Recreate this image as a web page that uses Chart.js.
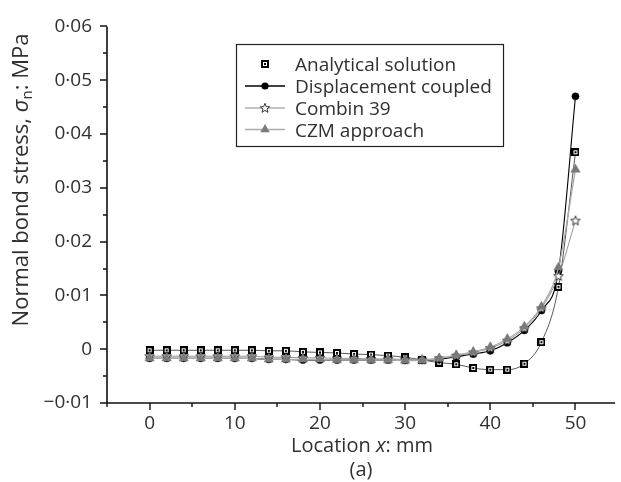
<!DOCTYPE html>
<html>
<head>
<meta charset="utf-8">
<script src="https://cdn.jsdelivr.net/npm/chart.js@4/dist/chart.umd.min.js"></script>
<style>
  html, body { margin: 0; padding: 0; background: #fff; }
  #wrap { width: 621px; height: 482px; }
</style>
</head>
<body>
<div id="wrap"><canvas id="c"></canvas></div>
<script>
// Location along the bond line, mm
const locations = [0, 2, 4, 6, 8, 10, 12, 14, 16, 18, 20, 22, 24, 26, 28, 30, 32, 34, 36, 38, 40, 42, 44, 46, 48, 50];

// Normal bond stress, MPa
const analytical = [-0.0002, -0.0002, -0.0002, -0.0002, -0.0002, -0.0002, -0.0002, -0.0003, -0.0003, -0.0005, -0.0006, -0.0007, -0.0009,
                    -0.0010, -0.0012, -0.0015, -0.0020, -0.0025, -0.0028, -0.0035, -0.0038, -0.0038, -0.0027, 0.0013, 0.0116, 0.0366];
const displacementCoupled = [-0.0017, -0.0017, -0.0017, -0.0017, -0.0017, -0.0017, -0.0017, -0.0019, -0.0019, -0.0020, -0.0020, -0.0020, -0.0020,
                    -0.0020, -0.0020, -0.0021, -0.0021, -0.0019, -0.0014, -0.0009, -0.0003, 0.0012, 0.0035, 0.0072, 0.0145, 0.0470];
const combin39 = [-0.0013, -0.0013, -0.0013, -0.0013, -0.0013, -0.0013, -0.0013, -0.0015, -0.0015, -0.0016, -0.0016, -0.0017, -0.0017,
                    -0.0018, -0.0018, -0.0019, -0.0019, -0.0017, -0.0012, -0.0006, 0.0002, 0.0016, 0.0039, 0.0076, 0.0136, 0.0239];
const czmApproach = [-0.0017, -0.0017, -0.0017, -0.0017, -0.0017, -0.0017, -0.0017, -0.0019, -0.0019, -0.0019, -0.0019, -0.0020, -0.0020,
                    -0.0020, -0.0020, -0.0021, -0.0021, -0.0017, -0.0011, -0.0005, 0.0004, 0.0019, 0.0042, 0.0079, 0.0152, 0.0334];

const seriesNames = ['Analytical solution', 'Displacement coupled', 'Combin 39', 'CZM approach'];

// Tick values
const xTickValues = [0, 10, 20, 30, 40, 50];
const yTickValues = [-0.01, 0, 0.01, 0.02, 0.03, 0.04, 0.05, 0.06];

const FONT = "'Open Sans', 'Noto Sans', sans-serif";
const TEXT = '#303030';

// Open square with a centre dot
function squareDot() {
  const c = document.createElement('canvas');
  c.width = 8; c.height = 8;
  const g = c.getContext('2d');
  g.fillStyle = '#fff'; g.fillRect(0, 0, 8, 8);
  g.strokeStyle = '#000'; g.lineWidth = 2; g.strokeRect(1, 1, 6, 6);
  g.fillStyle = '#000'; g.fillRect(3, 3, 2, 2);
  return c;
}
// Open five-pointed star
function openStar() {
  const c = document.createElement('canvas');
  c.width = 12; c.height = 12;
  const g = c.getContext('2d');
  g.beginPath();
  for (let i = 0; i < 10; i++) {
    const r = i % 2 === 0 ? 5 : 2.1;
    const a = -Math.PI / 2 + i * Math.PI / 5;
    const px = 6 + r * Math.cos(a), py = 6.3 + r * Math.sin(a);
    if (i === 0) g.moveTo(px, py); else g.lineTo(px, py);
  }
  g.closePath();
  g.fillStyle = '#fff'; g.fill();
  g.strokeStyle = '#222'; g.lineWidth = 0.9; g.stroke();
  return c;
}
const squareImg = squareDot();
const starImg = openStar();

function pts(vals) { return locations.map((x, i) => ({ x: x, y: vals[i] })); }

const styles = [
  { line: '#444', lineWidth: 0.9, legendLine: false },
  { line: '#000', lineWidth: 1.1, legendLine: true },
  { line: '#8a8a8a', lineWidth: 0.9, legendLine: true },
  { line: '#ababab', lineWidth: 1.3, legendLine: true }
];

const datasets = [
  { label: seriesNames[0], data: pts(analytical), order: 4, borderColor: styles[0].line, borderWidth: styles[0].lineWidth,
    pointStyle: squareImg, pointRadius: 4 },
  { label: seriesNames[1], data: pts(displacementCoupled), order: 3, borderColor: styles[1].line, borderWidth: styles[1].lineWidth,
    pointStyle: 'circle', pointRadius: 3.6, pointBackgroundColor: '#000', pointBorderColor: '#000', pointBorderWidth: 0.5 },
  { label: seriesNames[2], data: pts(combin39), order: 2, borderColor: styles[2].line, borderWidth: styles[2].lineWidth,
    pointStyle: starImg, pointRadius: 5 },
  { label: seriesNames[3], data: pts(czmApproach), order: 1, borderColor: styles[3].line, borderWidth: styles[3].lineWidth,
    pointStyle: 'triangle', pointRadius: 5.4, pointBackgroundColor: '#7a7a7a', pointBorderColor: '#7a7a7a', pointBorderWidth: 0.5 }
];

function fmtStress(v) {
  if (Math.abs(v) < 1e-9) return '0';
  const s = Math.abs(v).toFixed(2).replace('.', '\u00B7');
  return v < 0 ? '\u2212' + s : s;
}

// Axis lines, major/minor tick marks, axis titles and the boxed legend
const decorations = {
  id: 'decorations',
  afterDraw(chart) {
    const ctx = chart.ctx;
    const xs = chart.scales.x, ys = chart.scales.y;
    const left = chart.chartArea.left, right = chart.chartArea.right;
    const top = chart.chartArea.top, bottom = chart.chartArea.bottom;
    ctx.save();
    ctx.strokeStyle = '#111';
    ctx.lineWidth = 1.6;
    ctx.beginPath();
    ctx.moveTo(left, top); ctx.lineTo(left, bottom);
    ctx.moveTo(left, bottom); ctx.lineTo(right, bottom);
    ctx.stroke();

    ctx.lineWidth = 1.4;
    ctx.beginPath();
    for (let v = -5; v <= 55; v += 5) {
      const px = Math.round(xs.getPixelForValue(v));
      if (px > right + 1) continue;
      const len = (v % 10 === 0) ? 7 : 4;
      ctx.moveTo(px, bottom); ctx.lineTo(px, bottom + len);
    }
    for (let k = -2; k <= 12; k++) {
      const v = k * 0.005;
      const py = Math.round(ys.getPixelForValue(v));
      const len = (k % 2 === 0) ? 7 : 4;
      ctx.moveTo(left, py); ctx.lineTo(left - len, py);
    }
    ctx.stroke();

    // x title with italic symbol
    ctx.fillStyle = TEXT;
    ctx.textBaseline = 'alphabetic';
    const fN = '19px ' + FONT;
    const fX = '20px ' + FONT, fXI = 'italic 20px ' + FONT;
    const xParts = [['Location ', fX], ['x', fXI], [': mm', fX]];
    let w = 0;
    xParts.forEach(p => { ctx.font = p[1]; w += ctx.measureText(p[0]).width; });
    let cx = 362 - w / 2;
    xParts.forEach(p => { ctx.font = p[1]; ctx.fillText(p[0], cx, 452); cx += ctx.measureText(p[0]).width; });
    ctx.font = fX; ctx.textAlign = 'center';
    ctx.fillText('(a)', 361, 476);
    ctx.textAlign = 'left';

    // y title, rotated, with italic sigma and subscript n
    ctx.save();
    ctx.translate(28, 180);
    ctx.rotate(-Math.PI / 2);
    const yParts = [['Normal bond stress, ', '22px ' + FONT, 0], ['\u03C3', 'italic 22px ' + FONT, 0],
                    ['n', '15px ' + FONT, 4], [': MPa', '22px ' + FONT, 0]];
    w = 0;
    yParts.forEach(p => { ctx.font = p[1]; w += ctx.measureText(p[0]).width; });
    cx = -w / 2;
    yParts.forEach(p => { ctx.font = p[1]; ctx.fillText(p[0], cx, p[2]); cx += ctx.measureText(p[0]).width; });
    ctx.restore();

    // legend
    const bx = 236, by = 44, bw = 267, bh = 102;
    ctx.fillStyle = '#fff';
    ctx.fillRect(bx, by, bw, bh);
    ctx.strokeStyle = '#222'; ctx.lineWidth = 1.2;
    ctx.strokeRect(bx + 0.5, by + 0.5, bw, bh);
    const rows = [63.5, 86, 108, 129.5];
    chart.data.datasets.forEach((ds, i) => {
      const y = rows[i];
      if (styles[i].legendLine) {
        ctx.strokeStyle = ds.borderColor; ctx.lineWidth = ds.borderWidth + 0.3;
        ctx.beginPath(); ctx.moveTo(245, y); ctx.lineTo(285, y); ctx.stroke();
      }
      const mx = 265;
      if (ds.pointStyle instanceof HTMLCanvasElement) {
        ctx.drawImage(ds.pointStyle, Math.round(mx - ds.pointStyle.width / 2), Math.round(y - ds.pointStyle.height / 2));
      } else if (ds.pointStyle === 'circle') {
        ctx.fillStyle = ds.pointBackgroundColor;
        ctx.beginPath(); ctx.arc(mx, y, ds.pointRadius, 0, Math.PI * 2); ctx.fill();
      } else if (ds.pointStyle === 'triangle') {
        const r = ds.pointRadius;
        ctx.fillStyle = ds.pointBackgroundColor;
        ctx.beginPath();
        ctx.moveTo(mx, y - r);
        ctx.lineTo(mx + r * Math.sin(2 * Math.PI / 3), y + r / 2);
        ctx.lineTo(mx - r * Math.sin(2 * Math.PI / 3), y + r / 2);
        ctx.closePath(); ctx.fill();
      }
      ctx.fillStyle = TEXT; ctx.font = fN;
      ctx.fillText(ds.label, 295, y + 7);
    });
    ctx.restore();
  }
};

new Chart(document.getElementById('c'), {
  type: 'line',
  data: { datasets: datasets },
  plugins: [decorations],
  options: {
    responsive: true,
    maintainAspectRatio: false,
    animation: false,
    devicePixelRatio: 1,
    layout: { padding: { top: 18, right: 1, left: 0, bottom: 0 } },
    elements: { line: { cubicInterpolationMode: 'monotone', fill: false } },
    plugins: { legend: { display: false }, tooltip: { enabled: false } },
    scales: {
      x: {
        type: 'linear', min: -5, max: 54.65,
        grid: { display: false, drawTicks: false },
        border: { display: false },
        afterBuildTicks: s => { s.ticks = xTickValues.map(v => ({ value: v })); },
        afterFit: s => { s.height = 79; },
        ticks: { padding: 9, color: TEXT, font: { family: FONT, size: 19 }, maxRotation: 0, autoSkip: false }
      },
      y: {
        type: 'linear', min: -0.01, max: 0.06,
        grid: { display: false, drawTicks: false },
        border: { display: false },
        afterBuildTicks: s => { s.ticks = yTickValues.map(v => ({ value: v })); },
        afterFit: s => { s.width = 107; },
        ticks: { padding: 15, color: TEXT, font: { family: FONT, size: 19 }, autoSkip: false, callback: v => fmtStress(v) }
      }
    }
  }
});
</script>
</body>
</html>
